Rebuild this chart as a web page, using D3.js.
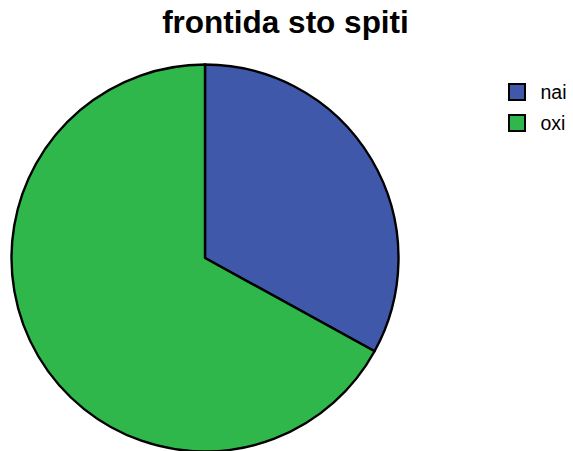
<!DOCTYPE html>
<html>
<head>
<meta charset="utf-8">
<script src="https://cdn.jsdelivr.net/npm/d3@7"></script>
<style>
  html, body { margin: 0; padding: 0; background: #fff; }
  svg { display: block; }
</style>
</head>
<body>
<svg id="chart" width="573" height="451"></svg>
<script>
const categories = ["nai", "oxi"];
const values = [33, 67];
const colors = ["#3F58AA", "#2FB74B"];
const title = "frontida sto spiti";

const svg = d3.select("#chart");
const cx = 205, cy = 258, r = 193.5;

svg.append("text")
  .attr("x", 285.5).attr("y", 33)
  .attr("text-anchor", "middle")
  .attr("font-family", "Liberation Sans, Arial, sans-serif")
  .attr("font-weight", "bold")
  .attr("font-size", 31.5)
  .attr("fill", "#000")
  .text(title);

const color = d3.scaleOrdinal().domain(categories).range(colors);
const pie = d3.pie().sort(null).value((d, i) => values[i]);
const arc = d3.arc().innerRadius(0).outerRadius(r);

svg.append("g")
  .attr("transform", `translate(${cx},${cy})`)
  .selectAll("path")
  .data(pie(categories))
  .join("path")
  .attr("d", arc)
  .attr("fill", d => color(d.data))
  .attr("stroke", "#000")
  .attr("stroke-width", 2.4)
  .attr("stroke-linejoin", "round");

const legend = svg.append("g").attr("transform", "translate(509,84)");
const items = legend.selectAll("g")
  .data(categories)
  .join("g")
  .attr("transform", (d, i) => `translate(0,${i * 31})`);
items.append("rect")
  .attr("x", 0).attr("y", 0)
  .attr("width", 16).attr("height", 16)
  .attr("fill", d => color(d))
  .attr("stroke", "#000")
  .attr("stroke-width", 2);
items.append("text")
  .attr("x", 31.5).attr("y", 15)
  .attr("font-family", "Liberation Sans, Arial, sans-serif")
  .attr("font-size", 19.5)
  .attr("fill", "#000")
  .text(d => d);
</script>
</body>
</html>
